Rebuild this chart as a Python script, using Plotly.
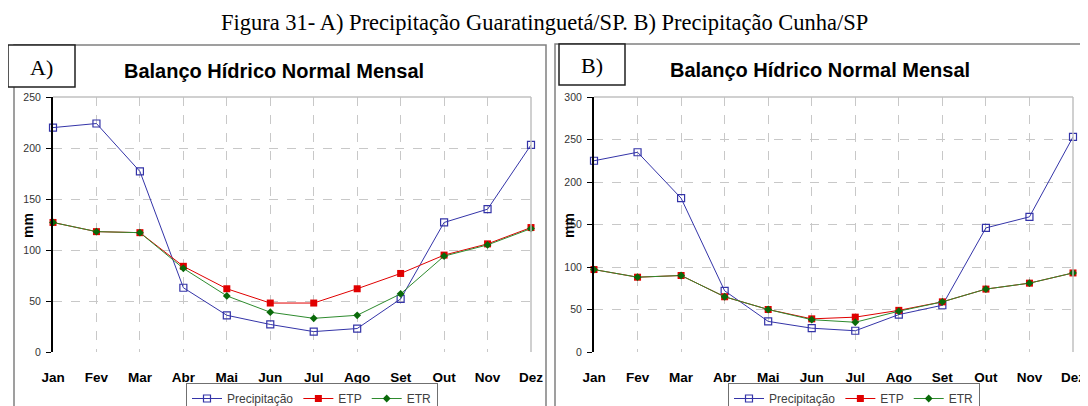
import plotly.graph_objects as go

# a janela tem 1088x406, mas a pagina desloca o grafico 8px (margem do body)
W, H = 1088, 406
OFF = 8
FW, FH = W - OFF, H - OFF

meses = ["Jan", "Fev", "Mar", "Abr", "Mai", "Jun", "Jul", "Ago", "Set", "Out", "Nov", "Dez"]

# A) Guaratinguetá/SP
prec_guara = [220, 224, 177, 63, 36, 27, 20, 23, 52, 127, 140, 203]
etp_guara = [127, 118, 117, 84, 62, 48, 48, 62, 77, 95, 106, 122]
etr_guara = [127, 118, 117, 82, 55, 39, 33, 36, 57, 94, 105, 121]

# B) Cunha/SP
prec_cunha = [225, 235, 181, 72, 36, 28, 25, 44, 55, 146, 159, 253]
etp_cunha = [97, 88, 90, 65, 50, 39, 41, 49, 59, 74, 81, 93]
etr_cunha = [97, 88, 90, 65, 50, 38, 35, 48, 59, 74, 81, 93]

yticks_guara = [0, 50, 100, 150, 200, 250]
yticks_cunha = [0, 50, 100, 150, 200, 250, 300]


def px(x):
    return (x - OFF) / FW


def py(y):
    return 1 - (y - OFF) / FH


AZUL = "#3434a8"
VERMELHO = "#e00000"
VERDE = "#2e8b2e"

fig = go.Figure()


def add_series(prec, etp, etr, xa, ya, leg):
    fig.add_trace(go.Scatter(x=meses, y=prec, name="Precipitação", mode="lines+markers",
                             xaxis=xa, yaxis=ya, legend=leg, cliponaxis=False,
                             line=dict(color=AZUL, width=1),
                             marker=dict(symbol="square-open", size=7, color=AZUL,
                                         line=dict(width=1.2, color=AZUL))))
    fig.add_trace(go.Scatter(x=meses, y=etp, name="ETP", mode="lines+markers",
                             xaxis=xa, yaxis=ya, legend=leg, cliponaxis=False,
                             line=dict(color=VERMELHO, width=1),
                             marker=dict(symbol="square", size=7, color=VERMELHO)))
    fig.add_trace(go.Scatter(x=meses, y=etr, name="ETR", mode="lines+markers",
                             xaxis=xa, yaxis=ya, legend=leg, cliponaxis=False,
                             line=dict(color=VERDE, width=1),
                             marker=dict(symbol="diamond", size=6, color="#0a6a0a")))


add_series(prec_guara, etp_guara, etr_guara, "x", "y", "legend")
add_series(prec_cunha, etp_cunha, etr_cunha, "x2", "y2", "legend2")

xcommon = dict(type="category", range=[0, 11], showline=False, ticks="",
               showgrid=True, gridcolor="#c8c8c8", griddash="dash", gridwidth=1,
               tickfont=dict(family="Liberation Sans", size=13.5, color="black", weight="bold"),
               ticklabelstandoff=15)
ycommon = dict(showline=True, linecolor="black", linewidth=2, ticks="outside",
               ticklen=5, tickcolor="black", tickwidth=1, zeroline=False,
               showgrid=True, gridcolor="#c8c8c8", griddash="dash", gridwidth=1,
               tickfont=dict(family="Liberation Sans", size=10.5, color="#333333"),
               ticklabelstandoff=3)

yd = [py(352), py(97)]
fig.update_layout(
    xaxis=dict(domain=[px(53), px(531)], anchor="y", **xcommon),
    yaxis=dict(domain=yd, anchor="x", range=[0, 250], tickvals=yticks_guara, **ycommon),
    xaxis2=dict(domain=[px(594), px(1073)], anchor="y2", **xcommon),
    yaxis2=dict(domain=yd, anchor="x2", range=[0, 300], tickvals=yticks_cunha, **ycommon),
)

legcommon = dict(orientation="h", xanchor="left", yanchor="top",
                 bordercolor="#707070", borderwidth=1, bgcolor="white",
                 font=dict(family="Liberation Sans", size=12, color="#404040"),
                 itemwidth=30, tracegroupgap=0)
fig.update_layout(
    legend=dict(x=px(186), y=py(383), **legcommon),
    legend2=dict(x=px(728), y=py(383), **legcommon),
)

shapes = []
# molduras dos graficos
for x0, x1, y0 in [(14, 546, 45), (555, 1085, 44)]:
    shapes.append(dict(type="rect", xref="paper", yref="paper",
                       x0=px(x0), x1=px(x1), y0=py(H + 10), y1=py(y0),
                       line=dict(color="#808080", width=1.5), layer="below"))
# bordas superior e direita da area de plotagem
for xa, ya in [("x", "y"), ("x2", "y2")]:
    shapes.append(dict(type="line", xref=xa + " domain", yref=ya + " domain",
                       x0=0, x1=1, y0=1, y1=1, line=dict(color="#c0c0c0", width=1.5)))
    shapes.append(dict(type="line", xref=xa + " domain", yref=ya + " domain",
                       x0=1, x1=1, y0=0, y1=1, line=dict(color="#c0c0c0", width=1.5)))
# caixas A) e B)
for x0, x1, y0, y1 in [(8, 75, 45, 87), (559, 625, 44, 85)]:
    shapes.append(dict(type="rect", xref="paper", yref="paper",
                       x0=px(x0), x1=px(x1), y0=py(y1), y1=py(y0),
                       line=dict(color="#202020", width=1.5), fillcolor="white"))
fig.update_layout(shapes=shapes)

ann = [
    dict(text="Figura 31- A) Precipitação Guaratinguetá/SP. B) Precipitação Cunha/SP",
         x=px(544), y=py(23), font=dict(family="Liberation Serif", size=22.5, color="black")),
    dict(text="A)", x=px(41), y=py(67), font=dict(family="Liberation Serif", size=22, color="black")),
    dict(text="B)", x=px(592), y=py(65), font=dict(family="Liberation Serif", size=22, color="black")),
    dict(text="<b>Balanço Hídrico Normal Mensal</b>", x=px(274), y=py(71),
         font=dict(family="Liberation Sans", size=20, color="black")),
    dict(text="<b>Balanço Hídrico Normal Mensal</b>", x=px(820), y=py(70),
         font=dict(family="Liberation Sans", size=20, color="black")),
    dict(text="<b>mm</b>", x=px(28), y=py(226), textangle=-90,
         font=dict(family="Liberation Sans", size=14, color="black")),
    dict(text="<b>mm</b>", x=px(569), y=py(226), textangle=-90,
         font=dict(family="Liberation Sans", size=14, color="black")),
]
for a in ann:
    a.update(xref="paper", yref="paper", showarrow=False, xanchor="center", yanchor="middle")
fig.update_layout(annotations=ann)

fig.update_layout(width=FW, height=FH, margin=dict(l=0, r=0, t=0, b=0, autoexpand=False),
                  paper_bgcolor="white", plot_bgcolor="white")

fig.write_html("out.html")
